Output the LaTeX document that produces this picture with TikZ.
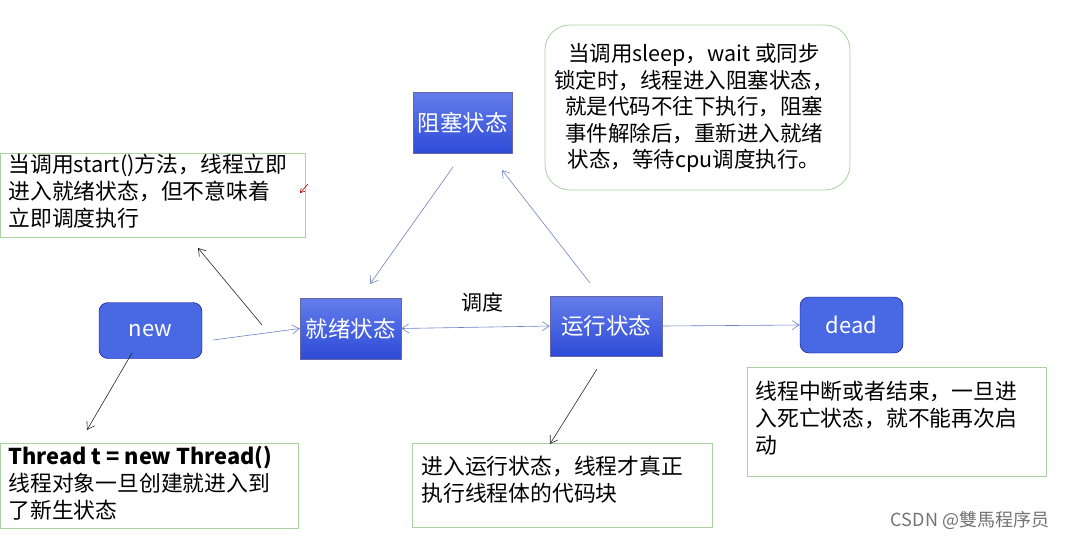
\documentclass[tikz,border=0pt]{standalone}
\usepackage{fontspec}
\setmainfont{Noto Sans CJK SC}
\usetikzlibrary{arrows.meta}
\begin{document}
\begin{tikzpicture}[x=1pt,y=-1pt,
  st/.style={draw=blue!40!black!60,top color={rgb,255:red,100;green,125;blue,235},bottom color={rgb,255:red,45;green,75;blue,215},text=white,font=\fontsize{22.5}{26}\selectfont,inner sep=0,minimum width=100pt,minimum height=60pt},
  rst/.style={draw=blue!50!black,fill={rgb,255:red,72;green,104;blue,228},rounded corners=9pt,text=white,font=\fontsize{22}{26}\selectfont,inner sep=0,minimum width=103pt,minimum height=56pt},
  note/.style={draw={rgb,255:red,170;green,210;blue,160},line width=0.8pt,align=left,font=\fontsize{21.8}{27}\selectfont,inner sep=0,anchor=north west},
  ba/.style={draw={rgb,255:red,110;green,130;blue,200},line width=0.6pt,-{Straight Barb[length=7pt,width=9pt]}},
  ka/.style={draw=black!85,line width=0.6pt,-{Straight Barb[length=7pt,width=9pt]}}]
\useasboundingbox (0,0) rectangle (1073,539);
\node[st,minimum width=99pt,minimum height=61pt] (blk) at (462.5,122.5) {阻塞状态};
\node[st,minimum width=101pt,minimum height=61pt] (rdy) at (350.5,328.5) {就绪状态};
\node[st,minimum width=112pt,minimum height=60pt] (run) at (606,326) {运行状态};
\node[rst] (new) at (150.5,330.5) {new};
\node[rst,minimum height=56pt] (dead) at (851.5,325) {dead};
\draw[note] (0,153) rectangle (305,237);
\node[note,draw=none] (n1) at (8,154) {当调用start()方法，线程立即\\进入就绪状态，但不意味着\\立即调度执行};
\draw[note,rounded corners=25pt] (545,25) rectangle (850,190);
\node[note,draw=none,align=center,anchor=center,font=\fontsize{21.5}{26.5}\selectfont] (n2) at (694,108) {当调用sleep，wait 或同步\\锁定时，线程进入阻塞状态，\\就是代码不往下执行，阻塞\\事件解除后，重新进入就绪\\状态，等待cpu调度执行。};
\draw[note] (0,443) rectangle (298,528);
\node[note,draw=none] (n3) at (8,446) {\textbf{Thread t = new Thread()}\\线程对象一旦创建就进入到\\了新生状态};
\draw[note] (412,443) rectangle (712,527);
\node[note,draw=none] (n4) at (421,456) {进入运行状态，线程才真正\\执行线程体的代码块};
\draw[note] (747,367) rectangle (1046,476);
\node[note,draw=none] (n5) at (755,381) {线程中断或者结束，一旦进\\入死亡状态，就不能再次启\\动};
\node[font=\fontsize{21}{24}\selectfont] (lbl) at (482,302) {调度};
\node[font=\fontsize{18}{20}\selectfont,text=black!55] (csdn) at (970,520) {CSDN @雙馬程序员};
\coordinate (a1) at (213,340); \coordinate (a2) at (262,325); \coordinate (a3) at (198,248);
\coordinate (r1) at (308,184); \coordinate (r2) at (300,193);
\coordinate (b1) at (453,167); \coordinate (b2) at (590,283); \coordinate (b3) at (502,170);
\coordinate (c1) at (132,353); \coordinate (c2) at (87,430);
\coordinate (d1) at (597,369); \coordinate (d2) at (550,444);
\draw[ba] (a1) -- (rdy.west);
\draw[ka] (a2) -- (a3);
\draw[draw=red!70!black,line width=0.6pt,-{Straight Barb[length=4pt,width=5pt]}] (r1) -- (r2);
\draw[ba] (b1) -- (370,284);
\draw[ba] (b2) -- (b3);
\draw[ba,{Straight Barb[length=7pt,width=9pt]}-{Straight Barb[length=7pt,width=9pt]}] (rdy.east) -- (run.west);
\draw[ba] (run.east) -- (dead.west);
\draw[ka] (c1) -- (c2);
\draw[ka] (d1) -- (d2);
\end{tikzpicture}
\end{document}
